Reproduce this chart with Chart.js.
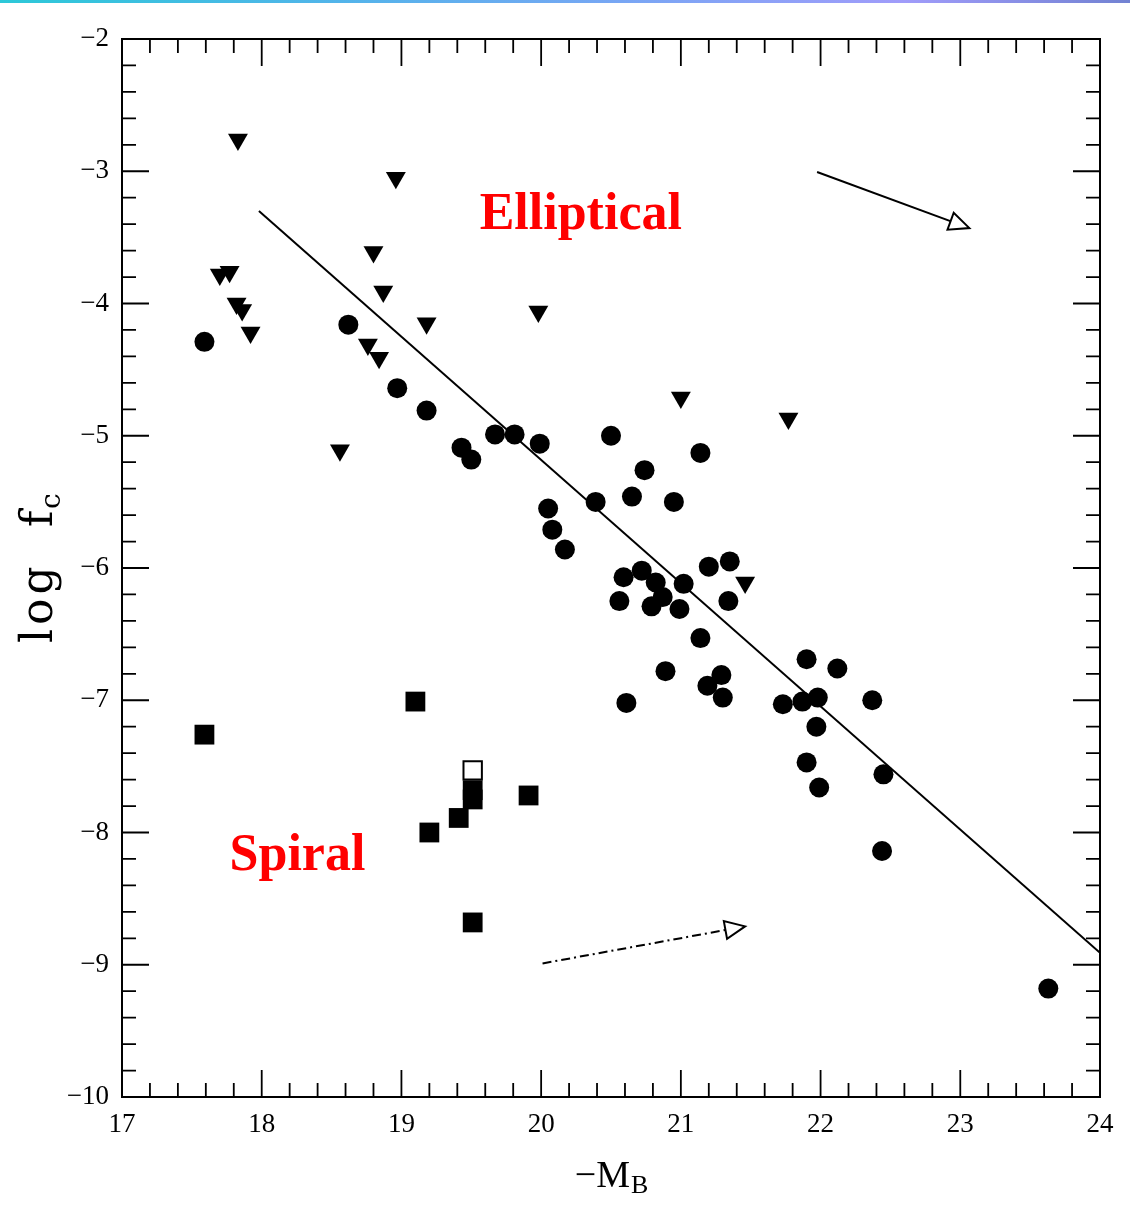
<!DOCTYPE html>
<html>
<head>
<meta charset="utf-8">
<title>log fc vs -MB</title>
<script src="https://cdn.jsdelivr.net/npm/chart.js@4.4.1/dist/chart.umd.min.js"></script>
<style>
  html, body { margin: 0; padding: 0; background: #fff; }
  .topbar {
    position: absolute; left: 0; top: 0; width: 1130px; height: 3px;
    background: linear-gradient(to right, #2cc8d8 0%, #52b4ea 30%, #78a6f4 55%, #a09cfa 80%, #7282d2 100%);
  }
  #wrap { width: 1130px; height: 1205px; }
</style>
</head>
<body>
<div class="topbar"></div>
<div id="wrap"><canvas id="fcChart" width="1130" height="1205"></canvas></div>
<script>
// axis ticks
const xTicks = [17, 18, 19, 20, 21, 22, 23, 24];
const yTicks = [-2, -3, -4, -5, -6, -7, -8, -9, -10];
const minorStep = 0.2;

// ellipticals (filled circles)
const ellipticalMag = [
  17.59, 18.62, 18.97, 19.18, 19.43, 19.50, 19.67, 19.81, 19.99, 20.05,
  20.08, 20.17, 20.39, 20.50, 20.65, 20.74, 20.95, 21.14, 20.59, 20.72,
  20.82, 20.87, 20.79, 20.56, 20.99, 21.02, 21.20, 21.35, 21.34, 21.14,
  20.89, 21.19, 21.29, 21.30, 20.61, 21.90, 22.12, 21.73, 21.87, 21.98,
  22.37, 21.97, 21.90, 22.45, 21.99, 22.44, 23.63
];
const ellipticalLogFc = [
  -4.29, -4.16, -4.64, -4.81, -5.09, -5.18, -4.99, -4.99, -5.06, -5.55,
  -5.71, -5.86, -5.50, -5.00, -5.46, -5.26, -5.50, -5.13, -6.07, -6.02,
  -6.11, -6.22, -6.29, -6.25, -6.31, -6.12, -5.99, -5.95, -6.25, -6.53,
  -6.78, -6.89, -6.81, -6.98, -7.02, -6.69, -6.76, -7.03, -7.01, -6.98,
  -7.00, -7.20, -7.47, -7.56, -7.66, -8.14, -9.18
];

// upper limits (downward triangles)
const limitMag = [
  17.83, 17.70, 17.77, 17.82, 17.86, 17.92, 18.96, 18.80, 18.87, 18.76,
  18.84, 19.18, 19.98, 18.56, 21.00, 21.77, 21.46
];
const limitLogFc = [
  -2.76, -3.78, -3.76, -4.00, -4.05, -4.22, -3.05, -3.61, -3.91, -4.31,
  -4.41, -4.15, -4.06, -5.11, -4.71, -4.87, -6.11
];

// spirals (filled squares)
const spiralMag = [17.59, 19.10, 19.20, 19.41, 19.51, 19.51, 19.91, 19.51];
const spiralLogFc = [-7.26, -7.01, -8.00, -7.89, -7.68, -7.75, -7.72, -8.68];

// spiral drawn as open square
const openSpiralMag = [19.51];
const openSpiralLogFc = [-7.53];

// fitted relation
const fitMag = [17.98, 24.0];
const fitLogFc = [-3.30, -8.91];

// evolution vectors
const arrowSolidMag = [21.975, 23.065];
const arrowSolidLogFc = [-3.006, -3.43];
const arrowDashMag = [20.01, 21.46];
const arrowDashLogFc = [-8.99, -8.71];

const toPoints = (xs, ys) => xs.map((x, i) => ({ x: x, y: ys[i] }));

const serif = "'Liberation Serif', 'Times New Roman', serif";

// frame with inward major/minor ticks on all four sides
const framePlugin = {
  id: "frame",
  afterDatasetsDraw(chart) {
    const { ctx, chartArea: a, scales } = chart;
    const xs = scales.x, ys = scales.y;
    ctx.save();
    ctx.strokeStyle = "#000";
    ctx.lineWidth = 2;
    ctx.strokeRect(a.left, a.top, a.right - a.left, a.bottom - a.top);
    ctx.lineWidth = 1.8;
    ctx.beginPath();
    const nx = Math.round((xs.max - xs.min) / minorStep);
    for (let i = 0; i <= nx; i++) {
      const v = xs.min + i * minorStep;
      const len = Math.abs(v - Math.round(v)) < 1e-6 ? 27 : 14;
      const px = xs.getPixelForValue(v);
      ctx.moveTo(px, a.bottom); ctx.lineTo(px, a.bottom - len);
      ctx.moveTo(px, a.top); ctx.lineTo(px, a.top + len);
    }
    const ny = Math.round((ys.max - ys.min) / minorStep);
    for (let i = 0; i <= ny; i++) {
      const v = ys.min + i * minorStep;
      const len = Math.abs(v - Math.round(v)) < 1e-6 ? 27 : 14;
      const py = ys.getPixelForValue(v);
      ctx.moveTo(a.left, py); ctx.lineTo(a.left + len, py);
      ctx.moveTo(a.right, py); ctx.lineTo(a.right - len, py);
    }
    ctx.stroke();
    ctx.restore();
  }
};

// open arrowheads at the end of the vector datasets
const arrowPlugin = {
  id: "arrowHeads",
  afterDatasetsDraw(chart) {
    const ctx = chart.ctx;
    chart.data.datasets.forEach((ds, i) => {
      if (!ds.arrowHead) return;
      const pts = chart.getDatasetMeta(i).data;
      const p1 = pts[pts.length - 2], p2 = pts[pts.length - 1];
      const ang = Math.atan2(p2.y - p1.y, p2.x - p1.x);
      const len = 20, half = 9;
      const bx = p2.x - len * Math.cos(ang), by = p2.y - len * Math.sin(ang);
      ctx.save();
      ctx.beginPath();
      ctx.moveTo(p2.x, p2.y);
      ctx.lineTo(bx + half * Math.sin(ang), by - half * Math.cos(ang));
      ctx.lineTo(bx - half * Math.sin(ang), by + half * Math.cos(ang));
      ctx.closePath();
      ctx.fillStyle = "#fff";
      ctx.fill();
      ctx.setLineDash([]);
      ctx.lineWidth = 2;
      ctx.strokeStyle = "#000";
      ctx.stroke();
      ctx.restore();
    });
  }
};

// class labels inside the plot
const classLabels = [
  { text: "Elliptical", x: 19.56, y: -3.44 },
  { text: "Spiral", x: 17.77, y: -8.28 }
];

const labelPlugin = {
  id: "labels",
  afterDraw(chart) {
    const { ctx, chartArea: a, scales } = chart;
    ctx.save();
    ctx.fillStyle = "#ff0000";
    ctx.font = "bold 52px " + serif;
    ctx.textAlign = "left";
    ctx.textBaseline = "alphabetic";
    classLabels.forEach(l => {
      ctx.fillText(l.text, scales.x.getPixelForValue(l.x), scales.y.getPixelForValue(l.y));
    });

    // x axis title: -M_B
    ctx.fillStyle = "#000";
    const cx = (a.left + a.right) / 2;
    const base = a.bottom + 90;
    ctx.font = "38px " + serif;
    const main = "\u2212M";
    const wMain = ctx.measureText(main).width;
    ctx.font = "26px " + serif;
    const wSub = ctx.measureText("B").width;
    const x0 = cx - (wMain + wSub) / 2;
    ctx.font = "38px " + serif;
    ctx.fillText(main, x0, base);
    ctx.font = "26px " + serif;
    ctx.fillText("B", x0 + wMain + 1, base + 6);

    // y axis title: log f_c
    const midY = (a.top + a.bottom) / 2;
    ctx.translate(a.left - 70, midY + 75);
    ctx.rotate(-Math.PI / 2);
    ctx.font = "44px 'DejaVu Serif', serif";
    ctx.letterSpacing = "4px";
    ctx.fillText("log", 0, 0);
    ctx.letterSpacing = "0px";
    ctx.fillText("f", 116, 0);
    ctx.font = "28px 'DejaVu Serif', serif";
    ctx.fillText("c", 134, 8);
    ctx.restore();
  }
};

const ctx = document.getElementById("fcChart").getContext("2d");

new Chart(ctx, {
  type: "scatter",
  data: {
    datasets: [
      {
        label: "Ellipticals",
        data: toPoints(ellipticalMag, ellipticalLogFc),
        pointStyle: "circle",
        pointRadius: 10,
        backgroundColor: "#000",
        borderColor: "#000",
        borderWidth: 0
      },
      {
        label: "Upper limits",
        data: toPoints(limitMag, limitLogFc),
        pointStyle: "triangle",
        rotation: 180,
        pointRadius: 11.5,
        backgroundColor: "#000",
        borderColor: "#000",
        borderWidth: 0
      },
      {
        label: "Spirals",
        data: toPoints(spiralMag, spiralLogFc),
        pointStyle: "rect",
        pointRadius: 14,
        backgroundColor: "#000",
        borderColor: "#000",
        borderWidth: 0
      },
      {
        label: "Spiral (open)",
        data: toPoints(openSpiralMag, openSpiralLogFc),
        pointStyle: "rect",
        pointRadius: 13,
        backgroundColor: "#fff",
        borderColor: "#000",
        borderWidth: 2
      },
      {
        label: "Fit",
        data: toPoints(fitMag, fitLogFc),
        showLine: true,
        pointRadius: 0,
        borderColor: "#000",
        borderWidth: 2
      },
      {
        label: "Vector 1",
        data: toPoints(arrowSolidMag, arrowSolidLogFc),
        showLine: true,
        arrowHead: true,
        pointRadius: 0,
        borderColor: "#000",
        borderWidth: 2
      },
      {
        label: "Vector 2",
        data: toPoints(arrowDashMag, arrowDashLogFc),
        showLine: true,
        arrowHead: true,
        pointRadius: 0,
        borderColor: "#000",
        borderWidth: 2,
        borderDash: [9, 4, 2, 4]
      }
    ]
  },
  options: {
    responsive: false,
    animation: false,
    devicePixelRatio: 1,
    layout: { padding: { top: 39, right: 30, left: 0, bottom: 0 } },
    plugins: {
      legend: { display: false },
      tooltip: { enabled: false }
    },
    scales: {
      x: {
        type: "linear",
        min: 17,
        max: 24,
        afterBuildTicks: s => { s.ticks = xTicks.map(v => ({ value: v })); },
        afterFit: s => { s.height = 108; },
        grid: { display: false, drawTicks: false },
        border: { display: false },
        ticks: {
          color: "#000",
          padding: 12,
          font: { family: serif, size: 27 },
          callback: v => String(v)
        }
      },
      y: {
        type: "linear",
        min: -10,
        max: -2,
        afterBuildTicks: s => { s.ticks = yTicks.map(v => ({ value: v })); },
        afterFit: s => { s.width = 122; },
        grid: { display: false, drawTicks: false },
        border: { display: false },
        ticks: {
          color: "#000",
          padding: 13,
          font: { family: serif, size: 27 },
          callback: v => "\u2212" + Math.abs(v)
        }
      }
    }
  },
  plugins: [framePlugin, arrowPlugin, labelPlugin]
});
</script>
</body>
</html>
